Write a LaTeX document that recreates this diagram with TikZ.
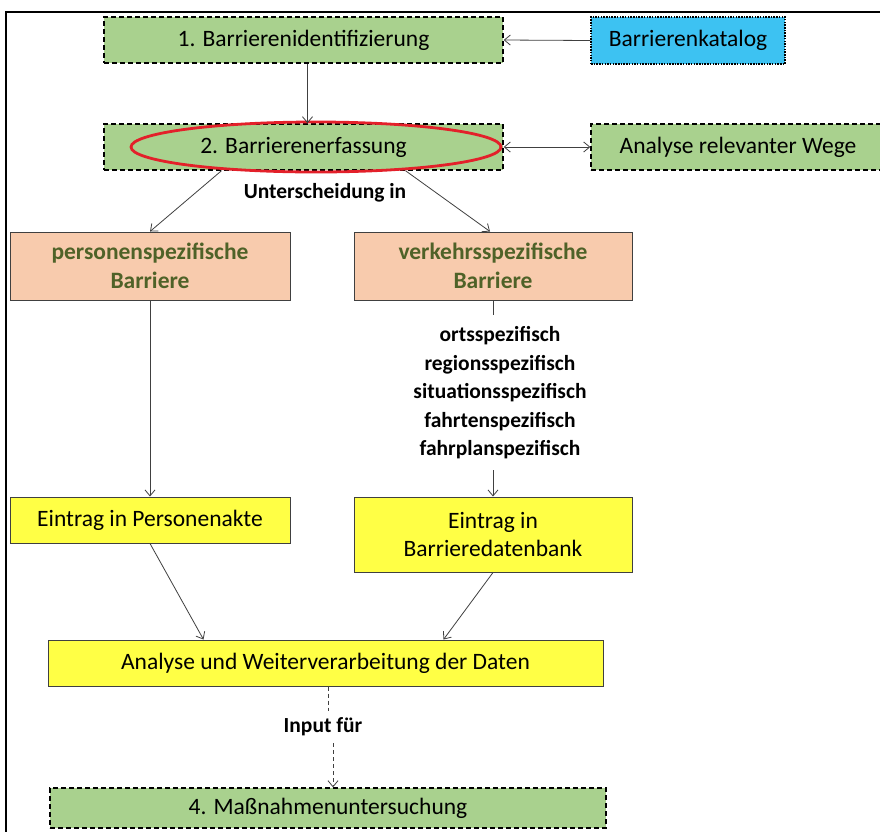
\documentclass[tikz,border=0pt]{standalone}
\usepackage{fontspec}
\setmainfont{Carlito}
\usetikzlibrary{arrows.meta}
\definecolor{boxgreen}{HTML}{A9D18E}
\definecolor{boxblue}{HTML}{3DC2F2}
\definecolor{boxorange}{HTML}{F8CBAD}
\definecolor{boxyellow}{HTML}{FFFF45}
\definecolor{olivetext}{HTML}{4F6228}
\definecolor{ringred}{HTML}{E3202A}
\definecolor{linegray}{HTML}{404040}
\tikzset{
  base/.style={rectangle, inner sep=0pt, align=center, font=\fontsize{23.5}{28.5}\selectfont},
  stepgreen/.style={base, fill=boxgreen, draw=black, line width=1.4pt, dash pattern=on 5pt off 3pt},
  catalog/.style={base, fill=boxblue, draw=black, line width=1.4pt, dash pattern=on 1.5pt off 1.2pt},
  kindbox/.style={base, fill=boxorange, draw=linegray, line width=1pt, text=olivetext, font=\fontsize{23.5}{28.5}\selectfont\bfseries},
  entrybox/.style={base, fill=boxyellow, draw=linegray, line width=1pt},
  boldlabel/.style={inner sep=0pt, align=center, font=\fontsize{21.5}{28.5}\selectfont\bfseries},
  conn/.style={draw=linegray, line width=0.8pt, -{Straight Barb[length=6pt,width=10pt]}},
  connboth/.style={draw=linegray, line width=0.8pt, {Straight Barb[length=6pt,width=10pt]}-{Straight Barb[length=6pt,width=10pt]}},
  plain/.style={draw=linegray, line width=0.8pt},
  dashconn/.style={draw=linegray, line width=0.8pt, dash pattern=on 4pt off 3pt}
}
\begin{document}
\begin{tikzpicture}[x=1pt, y=-1pt]
\useasboundingbox (0,0) rectangle (880,831);
\clip (0,0) rectangle (880,831);
\fill[white] (0,0) rectangle (880,831);

% outer frame
\draw[black, line width=1.4pt] (6,840) -- (6,12) -- (890,12);

% process boxes
\node[stepgreen, minimum width=399pt, minimum height=46pt] (ident) at (303.5,40) {1. Barrierenidentifizierung};
\node[catalog, minimum width=194pt, minimum height=47pt] (katalog) at (688,40.5) {Barrierenkatalog};
\node[stepgreen, minimum width=399pt, minimum height=46pt] (erfass) at (303.5,147) {2. Barrierenerfassung};
\node[stepgreen, minimum width=294pt, minimum height=46pt] (wege) at (738,147) {Analyse relevanter Wege};
\draw[ringred, line width=2.8pt] (316,147) ellipse [x radius=185pt, y radius=25pt];

\node[kindbox, minimum width=280pt, minimum height=68pt] (person) at (150,266) {personenspezifische\\Barriere};
\node[kindbox, minimum width=278pt, minimum height=68pt] (verkehr) at (493,266) {verkehrsspezifische\\Barriere};

\node[entrybox, minimum width=280pt, minimum height=46pt] (akte) at (150,520) {Eintrag in Personenakte};
\node[entrybox, minimum width=278pt, minimum height=75pt] (datenbank) at (493,534.5) {Eintrag in\\Barrieredatenbank};
\node[entrybox, minimum width=555pt, minimum height=46pt] (analyse) at (325.5,663) {Analyse und Weiterverarbeitung der Daten};
\node[stepgreen, minimum width=556pt, minimum height=40pt] (massnahme) at (328,808) {4. Maßnahmenuntersuchung};

% labels
\node[boldlabel] (unterscheidung) at (325,193) {Unterscheidung in};
\node[boldlabel] (arten) at (500,393) {ortsspezifisch\\regionsspezifisch\\situationsspezifisch\\fahrtenspezifisch\\fahrplanspezifisch};
\node[boldlabel] (input) at (323,727) {Input für};

\coordinate (listtop) at (493,315);
\coordinate (listbottom) at (493,470);

% connectors
\draw[conn] (katalog.west) -- (ident.east);
\draw[conn] ([xshift=4pt]ident.south) -- ([xshift=4pt]erfass.north);
\draw[connboth] (erfass.east) -- (wege.west);
\draw[conn] ([xshift=-82pt]erfass.south) -- (person.north);
\draw[conn] ([xshift=102pt]erfass.south) -- ([xshift=-3pt]verkehr.north);
\draw[conn] (person.south) -- (akte.north);
\draw[plain] (verkehr.south) -- (listtop);
\draw[conn] (listbottom) -- (datenbank.north);
\draw[conn] (akte.south) -- ([xshift=-122pt]analyse.north);
\draw[conn] (datenbank.south) -- ([xshift=118pt]analyse.north);
\draw[dashconn] ([xshift=3pt]analyse.south) -- ([xshift=3pt]analyse.south |- 0,711);
\draw[dashconn, -{Straight Barb[length=6pt,width=10pt]}] ([xshift=5pt]massnahme.north |- 0,743) -- ([xshift=5pt]massnahme.north);
\end{tikzpicture}
\end{document}
